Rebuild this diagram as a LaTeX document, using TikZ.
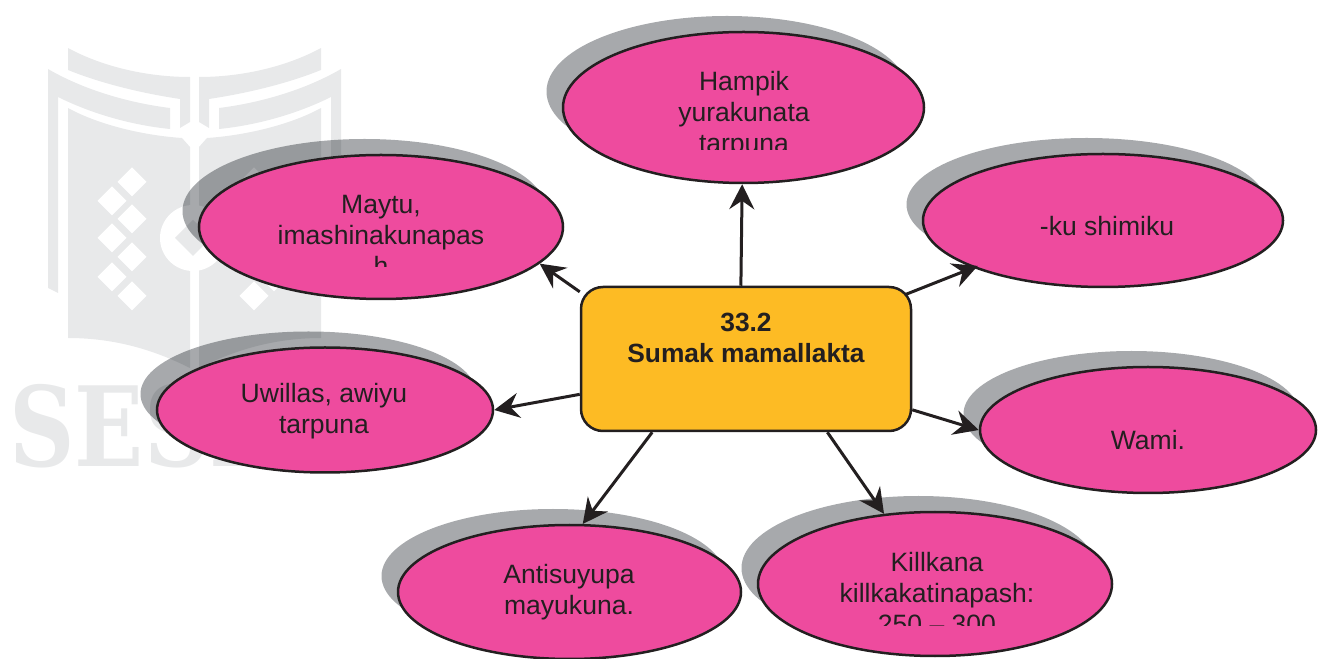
\documentclass[tikz,border=0pt]{standalone}
\usepackage{fontspec}
\setmainfont{Liberation Sans}
\newfontfamily\wmfont{DejaVu Serif}
\usetikzlibrary{arrows.meta,shapes.geometric,shadows}
\definecolor{inkdark}{HTML}{231F20}
\definecolor{ovalpink}{HTML}{EE4B9E}
\definecolor{boxyellow}{HTML}{FDBB24}
\definecolor{shadowgray}{HTML}{A7A9AC}
\definecolor{wmgray}{HTML}{E8E9EA}
\tikzset{
    pinkoval/.style={ellipse, draw=inkdark, line width=.05cm, fill=ovalpink, inner sep=0pt,
        drop shadow={shadow xshift=-.33cm, shadow yshift=.32cm, fill=shadowgray, opacity=1, blend mode=multiply}},
    ovaltext/.style={align=center, text=inkdark, inner sep=0pt, font=\fontsize{15.1}{17.6}\selectfont},
    titlebox/.style={rectangle, rounded corners=.44cm, draw=inkdark, line width=.05cm, fill=boxyellow,
        minimum width=6.6cm, minimum height=2.88cm},
    spoke/.style={draw=inkdark, line width=.06cm, -{Stealth[length=.5cm, width=.5cm, inset=.17cm]}}
}
\newcommand{\wmhalf}{
    \fill[wmgray] (1.36,12.2) .. controls (2.1,11.8) and (3,11.62) .. (3.8,11.62) -- (3.8,10.72) -- (3.6,10.6) -- (3.6,11.18) .. controls (2.8,11.3) and (2,11.5) .. (1.36,11.76) -- cycle;
    \fill[wmgray] (.96,11.78) .. controls (1.7,11.35) and (2.6,11.1) .. (3.4,11) -- (3.4,10.58) .. controls (2.6,10.66) and (1.8,10.9) .. (1.16,11.22) -- (1.16,7.3) -- (.96,7.4) -- cycle;
    \fill[wmgray] (1.36,11) .. controls (2,10.65) and (2.9,10.45) .. (3.64,10.4) -- (3.8,10.22) -- (3.8,5.8) .. controls (3.2,6.1) and (2.4,6.4) .. (1.36,6.4) -- cycle;
}
\newcommand{\wmgem}[2]{\fill[white] (#1,#2) ++(.29,0) -- ++(-.29,.29) -- ++(-.29,-.29) -- ++(.29,-.29) -- cycle;}
\newcommand{\wmgems}{
    \wmgem{2.64}{9.52} \wmgem{2.24}{9.14} \wmgem{2.64}{8.78} \wmgem{2.24}{8.4}
    \wmgem{2.64}{8.02} \wmgem{2.24}{7.62} \wmgem{2.64}{7.24}
}
\begin{document}
\begin{tikzpicture}
    \useasboundingbox (0,0) rectangle (26.38,13.16);
    % watermark
    \wmhalf
    \begin{scope}[xshift=7.78cm, xscale=-1]
        \wmhalf
    \end{scope}
    \wmgems
    \begin{scope}[xshift=7.72cm, xscale=-1]
        \wmgems
    \end{scope}
    \fill[white] (3.86,8.4) circle (.66);
    \fill[wmgray] (3.86,8.76) -- (4.22,8.4) -- (3.86,8.04) -- (3.5,8.4) -- cycle;
    \node (wmtext) [anchor=base west, inner sep=0pt, xscale=.82, transform shape, text=wmgray, font=\wmfont\bfseries\fontsize{63}{70}\selectfont] at (.18,3.82) {SESE};
    % ovals
    \node (hampik) [pinkoval, minimum width=7.22cm, minimum height=3.02cm] at (14.87,11.01) {};
    \node (maytu) [pinkoval, minimum width=7.28cm, minimum height=2.88cm] at (7.62,8.62) {};
    \node (shimiku) [pinkoval, minimum width=7.2cm, minimum height=2.66cm] at (22.06,8.75) {};
    \node (uwillas) [pinkoval, minimum width=6.72cm, minimum height=2.5cm] at (6.5,4.96) {};
    \node (wami) [pinkoval, minimum width=6.72cm, minimum height=2.52cm] at (22.96,4.56) {};
    \node (antisuyu) [pinkoval, minimum width=6.86cm, minimum height=2.68cm] at (11.39,1.32) {};
    \node (killkana) [pinkoval, minimum width=7.08cm, minimum height=2.88cm] at (18.7,1.48) {};
    % oval texts, three of them are cut off at the bottom
    \begin{scope}
        \clip (11,10.16) rectangle (19,13);
        \node (hampiktext) [ovaltext] at (14.88,10.86) {Hampik\\yurakunata\\tarpuna};
    \end{scope}
    \begin{scope}
        \clip (4,7.82) rectangle (11,10);
        \node (maytutext) [ovaltext] at (7.62,8.46) {Maytu,\\imashinakunapas\\h};
    \end{scope}
    \begin{scope}
        \clip (15,.646) rectangle (22,3);
        \node (killkanatext) [ovaltext] at (18.74,1.3) {Killkana\\killkakatinapash:\\250 -- 300};
    \end{scope}
    \node (shimikutext) [ovaltext] at (22.14,8.64) {-ku shimiku};
    \node (uwillastext) [ovaltext] at (6.48,4.94) {Uwillas, awiyu\\tarpuna};
    \node (wamitext) [ovaltext] at (22.96,4.36) {Wami.};
    \node (antisuyutext) [ovaltext] at (11.38,1.32) {Antisuyupa\\mayukuna.};
    % centre box and arrows
    \node (box) [titlebox] at (14.92,5.98) {};
    \node (boxtext) [ovaltext, font=\bfseries\fontsize{15}{17.6}\selectfont] at (14.92,6.41) {33.2\\Sumak mamallakta};
    \draw[spoke] (box.94) -- (hampik.269);
    \draw[spoke] (box.158.5) -- (maytu.347);
    \draw[spoke, shorten <=-.14cm, shorten >=-.1cm] (box.22.3) -- (shimiku.200);
    \draw[spoke] (box.192) -- (uwillas.0);
    \draw[spoke] (box.343) -- (wami.180);
    \draw[spoke] (box.218) -- (antisuyu.79.6);
    \draw[spoke] (box.318.4) -- (killkana.126.4);
\end{tikzpicture}
\end{document}
